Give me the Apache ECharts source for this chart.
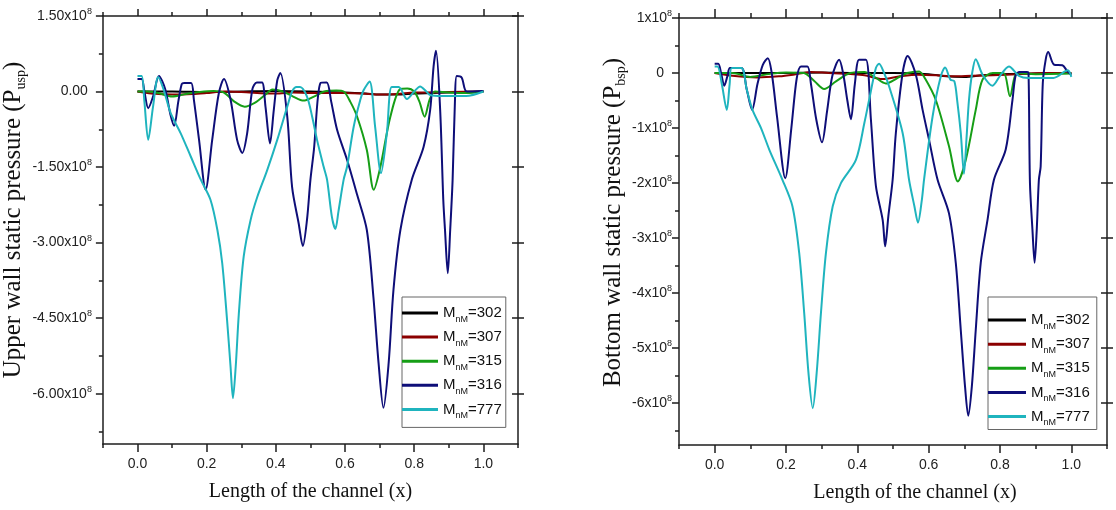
<!DOCTYPE html>
<html>
<head>
<meta charset="utf-8">
<script src="https://cdn.jsdelivr.net/npm/echarts@6/dist/echarts.min.js"></script>
<style>
  html, body { margin: 0; padding: 0; background: #ffffff; }
  #chart { width: 1116px; height: 510px; }
</style>
</head>
<body>
<div id="chart"></div>
<script>
// ---------------- DATA (pressure values in units of 1e8) ----------------
const SERIES_NAMES = ['MnM=302', 'MnM=307', 'MnM=315', 'MnM=316', 'MnM=777'];
const SERIES_COLORS = ['#000000', '#8B0000', '#169E16', '#0E0E78', '#1FB4BE'];

const X_TICKS = [0, 0.2, 0.4, 0.6, 0.8, 1.0];
const X_MINOR = [-0.1, 0.1, 0.3, 0.5, 0.7, 0.9, 1.1];

const UPPER_Y_TICKS = [1.5, 0, -1.5, -3, -4.5, -6];
const UPPER_Y_MINOR = [0.75, -0.75, -2.25, -3.75, -5.25, -6.75];
const BOTTOM_Y_TICKS = [1, 0, -1, -2, -3, -4, -5, -6];
const BOTTOM_Y_MINOR = [0.5, -0.5, -1.5, -2.5, -3.5, -4.5, -5.5, -6.5];

// Upper wall (left panel)
const upper302 = [[0,0],[0.1,0],[0.2,-0.01],[0.3,0],[0.4,0.01],[0.5,0],[0.6,-0.02],[0.66,-0.04],[0.7,-0.06],[0.75,-0.06],[0.8,-0.04],[0.85,-0.03],[0.9,-0.02],[0.95,-0.01],[1.0,0]];
const upper307 = [[0,0],[0.04,-0.04],[0.1,-0.06],[0.16,-0.05],[0.2,-0.03],[0.25,0],[0.3,-0.01],[0.4,-0.04],[0.45,-0.02],[0.5,-0.03],[0.55,-0.03],[0.6,-0.03],[0.65,-0.04],[0.7,-0.06],[0.75,-0.05],[0.8,-0.02],[0.9,-0.01],[1.0,0]];
const upper315 = [[0,0],[0.03,0],[0.06,-0.03],[0.1,-0.1],[0.14,-0.05],[0.18,-0.01],[0.22,0.01],[0.25,-0.02],[0.28,-0.2],[0.31,-0.3],[0.34,-0.22],[0.37,-0.06],[0.39,0.04],[0.42,0.0],[0.45,-0.1],[0.48,-0.18],[0.51,-0.1],[0.54,0.0],[0.575,0.02],[0.596,0.0],[0.615,-0.2],[0.635,-0.5],[0.663,-1.16],[0.683,-1.95],[0.702,-1.5],[0.731,-0.5],[0.76,0.05],[0.78,0.06],[0.8,0.0],[0.815,-0.2],[0.83,-0.5],[0.845,-0.15],[0.86,0.0],[0.9,-0.02],[0.95,-0.03],[1.0,0]];
const upper316 = [[0,0.25],[0.012,0.25],[0.02,0.0],[0.031,-0.33],[0.045,-0.1],[0.062,0.31],[0.08,0.05],[0.095,-0.45],[0.106,-0.68],[0.118,-0.2],[0.128,0.15],[0.135,0.17],[0.155,0.17],[0.163,-0.16],[0.178,-0.96],[0.197,-1.95],[0.216,-0.96],[0.235,-0.04],[0.25,0.25],[0.269,-0.16],[0.288,-0.96],[0.303,-1.22],[0.317,-0.83],[0.332,0.04],[0.345,0.18],[0.36,0.18],[0.37,-0.3],[0.383,-1.03],[0.394,-0.37],[0.404,0.22],[0.413,0.37],[0.433,-0.5],[0.447,-1.9],[0.466,-2.62],[0.478,-3.07],[0.49,-2.55],[0.5,-1.75],[0.51,-1.16],[0.529,0.17],[0.547,0.18],[0.56,-0.2],[0.577,-0.76],[0.606,-1.36],[0.635,-2.05],[0.663,-2.75],[0.682,-4.08],[0.697,-5.4],[0.711,-6.28],[0.726,-5.4],[0.74,-3.94],[0.76,-2.75],[0.793,-1.75],[0.827,-1.1],[0.846,-0.37],[0.856,0.5],[0.863,0.81],[0.875,-0.37],[0.884,-2.15],[0.889,-2.75],[0.897,-3.61],[0.904,-2.75],[0.911,-1.75],[0.918,-0.13],[0.923,0.31],[0.937,0.28],[0.952,0.0],[1.0,0.01]];
const upper777 = [[0,0.31],[0.012,0.31],[0.02,-0.2],[0.031,-0.96],[0.045,-0.3],[0.06,0.29],[0.075,0.05],[0.096,-0.43],[0.125,-0.83],[0.154,-1.29],[0.183,-1.75],[0.211,-2.15],[0.231,-2.75],[0.245,-3.41],[0.259,-4.54],[0.269,-5.46],[0.276,-6.09],[0.284,-5.46],[0.293,-4.41],[0.307,-3.28],[0.327,-2.55],[0.346,-2.1],[0.375,-1.56],[0.404,-0.96],[0.433,-0.3],[0.447,0.0],[0.46,0.09],[0.47,0.09],[0.49,-0.1],[0.505,-0.5],[0.519,-0.96],[0.538,-1.49],[0.548,-1.75],[0.562,-2.49],[0.572,-2.73],[0.581,-2.38],[0.596,-1.75],[0.606,-1.49],[0.625,-0.7],[0.644,-0.17],[0.654,0.03],[0.671,0.2],[0.687,-0.7],[0.704,-1.62],[0.721,-0.82],[0.735,0.09],[0.755,0.09],[0.779,-0.15],[0.8,0.0],[0.817,0.1],[0.835,0.0],[0.846,-0.07],[0.88,-0.09],[0.95,-0.09],[1.0,0.0]];

// Bottom wall (right panel)
const bottom302 = [[0,0],[0.1,0],[0.2,0],[0.3,0.01],[0.4,0],[0.5,0],[0.6,-0.02],[0.65,-0.06],[0.7,-0.07],[0.75,-0.04],[0.8,-0.02],[0.9,-0.01],[1.0,0]];
const bottom307 = [[0,0],[0.05,-0.05],[0.12,-0.08],[0.18,-0.06],[0.22,-0.03],[0.27,0.02],[0.32,0.0],[0.38,-0.02],[0.42,-0.04],[0.47,-0.11],[0.52,-0.06],[0.57,-0.03],[0.62,-0.04],[0.67,-0.06],[0.72,-0.05],[0.78,-0.04],[0.85,-0.02],[0.92,0.0],[1.0,0.0]];
const bottom315 = [[0,0],[0.05,0],[0.1,-0.07],[0.15,-0.02],[0.2,0.01],[0.25,0],[0.28,-0.15],[0.307,-0.29],[0.34,-0.15],[0.38,0.0],[0.42,0.02],[0.45,-0.08],[0.48,-0.19],[0.51,-0.1],[0.54,0.0],[0.573,0.03],[0.59,-0.1],[0.62,-0.49],[0.657,-1.33],[0.682,-1.97],[0.704,-1.58],[0.732,-0.67],[0.751,-0.12],[0.78,0.0],[0.81,0.0],[0.828,-0.42],[0.849,0.0],[0.9,-0.02],[1.0,-0.01]];
const bottom316 = [[0,0.17],[0.01,0.17],[0.018,0.0],[0.027,-0.23],[0.036,-0.05],[0.043,0.09],[0.075,0.09],[0.09,-0.3],[0.105,-0.67],[0.12,-0.2],[0.135,0.15],[0.149,0.27],[0.16,0.0],[0.175,-0.8],[0.198,-1.91],[0.215,-1.0],[0.23,-0.1],[0.242,0.12],[0.26,0.12],[0.27,-0.2],[0.285,-0.85],[0.301,-1.26],[0.315,-0.7],[0.33,-0.05],[0.349,0.24],[0.36,0.0],[0.372,-0.5],[0.382,-0.84],[0.393,-0.2],[0.405,0.24],[0.424,0.24],[0.438,-0.84],[0.452,-2.05],[0.471,-2.67],[0.478,-3.15],[0.487,-2.6],[0.499,-1.94],[0.508,-1.09],[0.527,0.0],[0.541,0.31],[0.564,-0.03],[0.583,-0.67],[0.601,-1.21],[0.625,-1.94],[0.657,-2.55],[0.676,-3.45],[0.69,-4.67],[0.702,-5.7],[0.711,-6.23],[0.721,-5.7],[0.732,-4.67],[0.746,-3.45],[0.765,-2.67],[0.783,-1.94],[0.816,-1.39],[0.835,-0.49],[0.844,-0.04],[0.855,0.02],[0.876,0.02],[0.88,0.0],[0.884,-2.0],[0.891,-2.85],[0.897,-3.45],[0.903,-2.85],[0.909,-1.94],[0.914,-1.7],[0.92,-0.18],[0.928,0.24],[0.935,0.38],[0.952,0.15],[0.975,0.14],[0.989,0.03],[1.0,-0.03]];
const bottom777 = [[0,0.12],[0.008,0.12],[0.02,-0.2],[0.034,-0.67],[0.042,-0.2],[0.048,0.09],[0.075,0.09],[0.09,-0.3],[0.106,-0.67],[0.13,-1.0],[0.153,-1.39],[0.19,-1.94],[0.218,-2.42],[0.237,-3.27],[0.251,-4.36],[0.263,-5.45],[0.275,-6.09],[0.286,-5.45],[0.298,-4.36],[0.312,-3.27],[0.331,-2.42],[0.354,-2.0],[0.396,-1.58],[0.42,-0.9],[0.433,-0.49],[0.452,0.09],[0.461,0.17],[0.475,0.0],[0.489,-0.24],[0.527,-1.09],[0.545,-1.94],[0.56,-2.42],[0.57,-2.72],[0.581,-2.3],[0.587,-1.94],[0.611,-0.79],[0.634,-0.06],[0.646,0.1],[0.661,-0.12],[0.672,-0.15],[0.68,-0.5],[0.69,-1.09],[0.699,-1.83],[0.706,-1.2],[0.713,-0.49],[0.722,0.0],[0.732,0.25],[0.751,-0.03],[0.779,-0.23],[0.8,-0.05],[0.825,0.12],[0.853,-0.05],[0.88,-0.09],[0.95,-0.09],[0.99,0.05],[1.0,-0.07]];

const UPPER_DATA = [upper302, upper307, upper315, upper316, upper777];
const BOTTOM_DATA = [bottom302, bottom307, bottom315, bottom316, bottom777];

// ---------------- STYLE ----------------
const AXIS_COLOR = '#1e1e1e';
const FONT_SANS = '"Liberation Sans", Arial, sans-serif';
const FONT_NARROW = '"Liberation Sans Narrow", "Arial Narrow", "Liberation Sans", sans-serif';
const FONT_SERIF = '"Liberation Serif", "Times New Roman", serif';

function tickStyle(len, inside, vals) {
  return { show: true, inside: !!inside, length: len, customValues: vals,
           lineStyle: { color: AXIS_COLOR, width: 1.5 } };
}
function lineAx(show) {
  return { show: show, onZero: false, lineStyle: { color: AXIS_COLOR, width: 1.5 } };
}

function makeXAxes(g, titlePadLeft, topMajorLen, topMinorLen) {
  const base = { gridIndex: g, type: 'value', min: -0.1, max: 1.1, splitLine: { show: false } };
  return [
    Object.assign({}, base, {
      position: 'bottom', axisLine: lineAx(true), axisTick: tickStyle(8, false, X_TICKS),
      axisLabel: { customValues: X_TICKS, formatter: v => v.toFixed(1), margin: 13, fontSize: 14,
                   color: '#222', fontFamily: FONT_SANS },
      name: 'Length of the channel (x)', nameLocation: 'middle', nameGap: 38,
      nameTextStyle: { fontSize: 20, fontFamily: FONT_SERIF, color: '#111', padding: [0, 0, 0, titlePadLeft] }
    }),
    Object.assign({}, base, { position: 'bottom', axisLine: lineAx(false), axisTick: tickStyle(4, false, X_MINOR), axisLabel: { show: false } }),
    Object.assign({}, base, { position: 'top', axisLine: lineAx(true), axisTick: tickStyle(topMajorLen, false, X_TICKS), axisLabel: { show: false } }),
    Object.assign({}, base, { position: 'top', axisLine: lineAx(false), axisTick: tickStyle(topMinorLen, false, X_MINOR), axisLabel: { show: false } })
  ];
}

function makeYAxes(g, min, max, majors, minors, rightMajors, labelFmt, labelFont, labelSize, margin, zeroPad, title, nameGap, titlePad) {
  const base = { gridIndex: g, type: 'value', min: min, max: max, splitLine: { show: false } };
  return [
    Object.assign({}, base, {
      position: 'left', axisLine: lineAx(true), axisTick: tickStyle(7, false, majors),
      axisLabel: { customValues: majors, formatter: labelFmt, margin: margin, color: '#222',
        rich: {
          n: { fontSize: labelSize, fontFamily: labelFont, color: '#222', lineHeight: 18 },
          p: { fontSize: 9, fontFamily: FONT_SANS, color: '#222', verticalAlign: 'top', lineHeight: 10 },
          z: { fontSize: labelSize, fontFamily: labelFont, color: '#222', lineHeight: 18, padding: [0, zeroPad, 0, 0] }
        } },
      name: title, nameLocation: 'middle', nameRotate: 90, nameGap: nameGap,
      nameTextStyle: { padding: [0, 0, 0, titlePad],
        rich: {
          t: { fontSize: 25, fontFamily: FONT_SERIF, color: '#111', lineHeight: 30 },
          s: { fontSize: 14, fontFamily: FONT_SERIF, color: '#111', verticalAlign: 'bottom', lineHeight: 12 }
        } }
    }),
    Object.assign({}, base, { position: 'left', axisLine: lineAx(false), axisTick: tickStyle(4, false, minors), axisLabel: { show: false } }),
    Object.assign({}, base, { position: 'right', axisLine: lineAx(true), axisTick: tickStyle(6, true, rightMajors), axisLabel: { show: false } }),
    Object.assign({}, base, { position: 'right', axisLine: lineAx(false), axisTick: tickStyle(6, false, rightMajors), axisLabel: { show: false } })
  ];
}

const upperFmt = v => (Math.abs(v) < 1e-9) ? '{z|0.00}' : '{n|' + v.toFixed(2) + 'x10}{p|8}';
const bottomFmt = v => (Math.abs(v) < 1e-9) ? '{z|0}' : '{n|' + v.toFixed(0) + 'x10}{p|8}';

const xAxes = makeXAxes(0, 0, 7, 4).concat(makeXAxes(1, 44, 9, 5));
const yAxes = makeYAxes(0, -7, 1.5, UPPER_Y_TICKS, UPPER_Y_MINOR, UPPER_Y_TICKS, upperFmt, FONT_NARROW, 14, 11, 4,
                        '{t|Upper wall static pressure (P}{s|usp}{t|)}', 64, 20)
  .concat(makeYAxes(1, -6.76, 1, BOTTOM_Y_TICKS, BOTTOM_Y_MINOR, BOTTOM_Y_TICKS, bottomFmt, FONT_SANS, 14, 7, 8,
                    '{t|Bottom wall static pressure (P}{s|bsp}{t|)}', 48, 18));

function makeSeries(g, datasets) {
  return datasets.map((d, i) => ({
    name: SERIES_NAMES[i], type: 'line', xAxisIndex: g * 4, yAxisIndex: g * 4,
    data: d, showSymbol: false, symbol: 'none', smooth: 0.3, color: SERIES_COLORS[i],
    lineStyle: { width: 2, color: SERIES_COLORS[i] }, z: 2 + i
  }));
}

function legendFmt(name) {
  const num = name.split('=')[1];
  return '{m|M}{s|nM}{m|=' + num + '}';
}
function makeLegend(left, top, itemWidth, padding) {
  return {
    orient: 'vertical', left: left, top: top, itemWidth: itemWidth, itemHeight: 3, icon: 'rect',
    itemGap: 5.6, padding: padding, borderColor: '#666', borderWidth: 1, selectedMode: false,
    data: SERIES_NAMES, formatter: legendFmt,
    textStyle: { rich: {
      m: { fontSize: 15, lineHeight: 22, fontFamily: FONT_SANS, color: '#111' },
      s: { fontSize: 9, lineHeight: 10, verticalAlign: 'bottom', fontFamily: FONT_SANS, color: '#111' }
    } }
  };
}

const chart = echarts.init(document.getElementById('chart'), null, { renderer: 'canvas' });
chart.setOption({
  backgroundColor: '#ffffff',
  animation: false,
  grid: [
    { left: 102, top: 16, width: 416, height: 428 },
    { left: 679, top: 18, width: 428, height: 427 }
  ],
  xAxis: xAxes,
  yAxis: yAxes,
  legend: [
    makeLegend(402, 297, 36, [8.5, 4, 7, 0]),
    makeLegend(988, 297, 38, [15.6, 7, 2, 0])
  ],
  series: makeSeries(0, UPPER_DATA).concat(makeSeries(1, BOTTOM_DATA))
});
</script>
</body>
</html>
